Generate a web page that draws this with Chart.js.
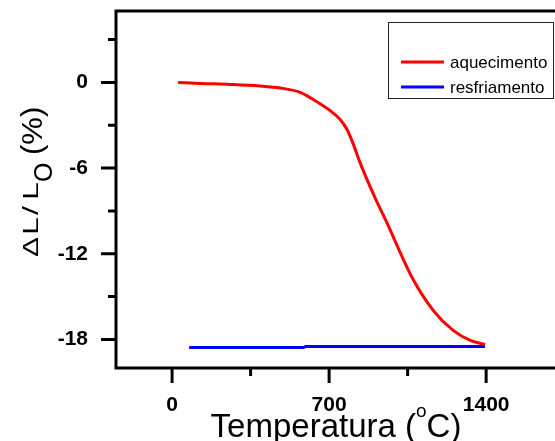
<!DOCTYPE html>
<html>
<head>
<meta charset="utf-8">
<script src="https://cdn.jsdelivr.net/npm/chart.js@4.4.1/dist/chart.umd.min.js"></script>
<style>
html,body{margin:0;padding:0;background:#fff;overflow:hidden;}
#wrap{width:555px;height:441px;}
</style>
</head>
<body>
<div id="wrap"><canvas id="c" width="555" height="441"></canvas></div>
<script>
// ---- data ----
const seriesNames = ['aquecimento', 'resfriamento'];
const heatT = [27, 125, 259, 392, 482, 571, 629, 704, 749, 780, 807, 838, 905, 958, 1016, 1074, 1164, 1253, 1329, 1395];
const heatV = [0, -0.07, -0.14, -0.25, -0.39, -0.70, -1.20, -1.97, -2.60, -3.30, -4.29, -5.62, -8.09, -9.84, -11.88, -13.78, -15.96, -17.37, -18.07, -18.35];
const coolT = [76, 585, 595, 1395];
const coolV = [-18.57, -18.57, -18.5, -18.5];
const xMajorTicks = [0, 700, 1400];
const xMinorTicks = [350, 1050];
const yMajorTicks = [-18, -12, -6, 0];
const yMinorTicks = [-15, -9, -3, 3];
const xTitle = ['Temperatura (', 'o', 'C)'];
const yTitle = ['\u0394', 'L', '/', 'L', 'O', '(%)'];

const FONT = '"Liberation Sans", Arial, sans-serif';

const toPts = (xs, ys) => xs.map((x, i) => ({x: x, y: ys[i]}));

const framePlugin = {
  id: 'frame',
  afterDraw(chart) {
    const ctx = chart.ctx;
    const a = chart.chartArea;
    const xs = chart.scales.x, ys = chart.scales.y;
    ctx.save();
    ctx.strokeStyle = '#000';
    ctx.lineWidth = 3;
    ctx.lineCap = 'butt';
    ctx.beginPath();
    ctx.moveTo(a.left, a.bottom + 1.5);
    ctx.lineTo(a.left, a.top - 1.5);
    ctx.moveTo(a.left - 1.5, a.top);
    ctx.lineTo(chart.width, a.top);
    ctx.moveTo(a.left - 1.5, a.bottom);
    ctx.lineTo(chart.width, a.bottom);
    yMajorTicks.forEach(v => { const p = ys.getPixelForValue(v); ctx.moveTo(a.left - 15, p); ctx.lineTo(a.left, p); });
    yMinorTicks.forEach(v => { const p = ys.getPixelForValue(v); ctx.moveTo(a.left - 8, p); ctx.lineTo(a.left, p); });
    xMajorTicks.forEach(v => { const p = xs.getPixelForValue(v); ctx.moveTo(p, a.bottom); ctx.lineTo(p, a.bottom + 15); });
    xMinorTicks.forEach(v => { const p = xs.getPixelForValue(v); ctx.moveTo(p, a.bottom); ctx.lineTo(p, a.bottom + 8); });
    ctx.stroke();

    // legend
    const lx = 388, ly = 22, lw = 165, lh = 76;
    ctx.lineWidth = 1;
    ctx.strokeStyle = '#222';
    ctx.strokeRect(lx + 0.5, ly + 0.5, lw, lh);
    const rows = [62, 87];
    chart.data.datasets.forEach((ds, i) => {
      ctx.strokeStyle = ds.borderColor;
      ctx.lineWidth = 3;
      ctx.beginPath();
      ctx.moveTo(401, rows[i]);
      ctx.lineTo(444, rows[i]);
      ctx.stroke();
      ctx.fillStyle = '#000';
      ctx.font = '17px ' + FONT;
      ctx.textAlign = 'left';
      ctx.textBaseline = 'middle';
      ctx.fillText(ds.label, 450, rows[i] + 1);
    });

    // x title
    ctx.fillStyle = '#000';
    ctx.textBaseline = 'alphabetic';
    ctx.textAlign = 'left';
    const big = 33, small = 19;
    ctx.font = big + 'px ' + FONT;
    const w1 = ctx.measureText(xTitle[0]).width;
    const w3 = ctx.measureText(xTitle[2]).width;
    ctx.font = small + 'px ' + FONT;
    const w2 = ctx.measureText(xTitle[1]).width;
    const total = w1 + w2 + w3;
    const sx = 336 - total / 2;
    const by = 437;
    ctx.font = big + 'px ' + FONT;
    ctx.fillText(xTitle[0], sx, by);
    ctx.font = small + 'px ' + FONT;
    ctx.fillText(xTitle[1], sx + w1, by - 20);
    ctx.font = big + 'px ' + FONT;
    ctx.fillText(xTitle[2], sx + w1 + w2, by);

    // y title (rotated); offsets along the reading direction
    ctx.save();
    ctx.translate(38, 260);
    ctx.rotate(-Math.PI / 2);
    const parts = [
      {t: yTitle[0], at: 3, size: 30, dy: 0, sq: 0.75},
      {t: yTitle[1], at: 25, size: 32, dy: 0, sq: 0.7},
      {t: yTitle[2], at: 45, size: 32, dy: 0, sq: 0.7},
      {t: yTitle[3], at: 60, size: 32, dy: 0, sq: 0.7},
      {t: yTitle[4], at: 78, size: 25, dy: 14, sq: 1},
      {t: yTitle[5], at: 105, size: 31, dy: 3.5, sq: 0.97}
    ];
    parts.forEach(p => {
      ctx.save();
      ctx.translate(p.at, p.dy);
      ctx.scale(1, p.sq);
      ctx.font = p.size + 'px ' + FONT;
      ctx.fillText(p.t, 0, 0);
      ctx.restore();
    });
    ctx.restore();

    ctx.restore();
  }
};

new Chart(document.getElementById('c'), {
  type: 'line',
  data: {
    datasets: [
      {label: seriesNames[0], data: toPts(heatT, heatV), borderColor: '#ff0000', borderWidth: 3, pointRadius: 0, cubicInterpolationMode: 'monotone', fill: false},
      {label: seriesNames[1], data: toPts(coolT, coolV), borderColor: '#0000ff', borderWidth: 3, pointRadius: 0, tension: 0, fill: false}
    ]
  },
  options: {
    responsive: false,
    animation: false,
    events: [],
    layout: {padding: {top: 11, right: 0, left: 0, bottom: 0}},
    plugins: {legend: {display: false}, tooltip: {enabled: false}, title: {display: false}},
    scales: {
      x: {
        type: 'linear', min: -250, max: 1707,
        grid: {display: false, drawTicks: false},
        border: {display: false},
        afterBuildTicks: s => { s.ticks = xMajorTicks.map(v => ({value: v})); },
        afterFit: s => { s.height = 73; s.paddingLeft = 0; s.paddingRight = 0; s.paddingTop = 0; s.paddingBottom = 0; },
        ticks: {padding: 25, color: '#000', font: {family: FONT, size: 21, weight: 'bold'}, maxRotation: 0, autoSkip: false, callback: v => String(v)}
      },
      y: {
        type: 'linear', min: -20, max: 5,
        grid: {display: false, drawTicks: false},
        border: {display: false},
        afterBuildTicks: s => { s.ticks = yMajorTicks.map(v => ({value: v})); },
        afterFit: s => { s.width = 116; s.paddingLeft = 0; s.paddingRight = 0; s.paddingTop = 0; s.paddingBottom = 0; },
        ticks: {padding: 28, color: '#000', font: {family: FONT, size: 21, weight: 'bold'}, callback: v => String(v)}
      }
    }
  },
  plugins: [framePlugin]
});
</script>
</body>
</html>
